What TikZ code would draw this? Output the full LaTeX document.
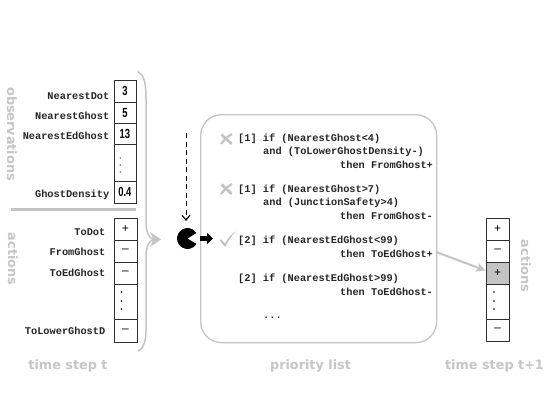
\documentclass[tikz,border=0pt]{standalone}
\usepackage{fontspec}
\setmainfont{DejaVu Sans}
\newfontfamily\codefont{Liberation Mono}[Scale=1]
\newfontfamily\valfont{Liberation Sans}
\usetikzlibrary{arrows.meta,calc}
\definecolor{lightgr}{HTML}{C8C8C8}
\definecolor{headgr}{HTML}{C6C6C6}
\definecolor{boxgr}{HTML}{C4C4C4}
\definecolor{cellline}{HTML}{303030}
\newcommand{\narrowval}[1]{\scalebox{0.82}[1.15]{#1}}
\tikzset{
  cell/.style={draw=cellline,line width=0.8pt,inner sep=0pt,anchor=north west,align=center},
  valtxt/.style={font=\valfont\fontsize{11.5}{11.5}\selectfont\bfseries},
  signtxt/.style={font=\valfont\fontsize{12}{12}\selectfont},
  code/.style={font=\codefont\fontsize{10.3}{10.3}\selectfont\bfseries,inner sep=0pt,text=black!85,yshift=-0.6pt},
  lbl/.style={code,anchor=east},
  rule/.style={code,anchor=west},
  grayhead/.style={font=\fontsize{12.8}{12.8}\selectfont\bfseries,text=headgr,inner sep=0pt},
}
\newcommand{\cellat}[7]{%
 \node[cell,minimum width=#4pt,minimum height=#5pt,#7] (#1) at (#2,#3) {#6};}
\begin{document}
\begin{tikzpicture}[x=1pt,y=-1pt]
\useasboundingbox[fill=white] (0,0) rectangle (545,409);
% headings
\node[grayhead,rotate=-90] (hobs) at (12,134) {observations};
\node[grayhead,rotate=-90] (hact) at (13,259) {actions};
\node[grayhead,rotate=-90] (hact2) at (526,266) {actions};
\node[grayhead] (ht) at (68,366) {time step t};
\node[grayhead] (hp) at (310.5,366) {priority list};
\node[grayhead] (ht1) at (494.5,366) {time step t+1};
% divider
\coordinate (d1) at (11,209.5); \coordinate (d2) at (136,209.5);
\draw[draw=boxgr,line width=3pt] (d1) -- (d2);
% observations
\cellat{o1}{113.5}{80.5}{22}{21}{\narrowval{3}}{valtxt}
\cellat{o2}{113.5}{101.5}{22}{21.5}{\narrowval{5}}{valtxt}
\cellat{o3}{113.5}{123}{22}{21}{\narrowval{13}}{valtxt}
\cellat{o4}{113.5}{144}{22}{37}{}{}
\cellat{o5}{113.5}{181}{22}{22}{\narrowval{0.4}}{valtxt}
\foreach \yy in {158,165,172} \fill[black] (120.2,\yy) circle (0.6);
\node[lbl] (lo1) at (109.5,95.5) {NearestDot};
\node[lbl] (lo2) at (109.5,115) {NearestGhost};
\node[lbl] (lo3) at (109.5,135) {NearestEdGhost};
\node[lbl] (lo5) at (109.5,194) {GhostDensity};
% actions
\cellat{a1}{113.5}{217.5}{23}{22}{+}{signtxt}
\cellat{a2}{113.5}{239.5}{23}{22}{–}{signtxt}
\cellat{a3}{113.5}{261.5}{23}{22}{–}{signtxt}
\cellat{a4}{113.5}{283.5}{23}{35}{}{}
\cellat{a5}{113.5}{318.5}{23}{23}{–}{signtxt}
\foreach \yy in {292,301,309} \fill[black] (121.5,\yy) circle (0.8);
\node[lbl] (la1) at (105.5,232) {ToDot};
\node[lbl] (la2) at (105.5,251.5) {FromGhost};
\node[lbl] (la3) at (105.5,272) {ToEdGhost};
\node[lbl] (la5) at (105.5,330.5) {ToLowerGhostD};
% brace
\coordinate (bt) at (138,71.5); \coordinate (bb) at (138,351);
\coordinate (btip) at (155,239.5);
\draw[draw=boxgr,line width=1.5pt] (bt) .. controls (144,75) and (146,83) .. (146,98)
  -- (146,222) .. controls (146,232) and (149,239.5) .. (btip)
  .. controls (149,239.5) and (146,247) .. (146,257)
  -- (146,330) .. controls (146,342) and (143,349) .. (bb);
\fill[boxgr] (161,239.5) -- (150,232) -- (153.5,239.5) -- (150,247) -- cycle;
% priority list
\node[draw=boxgr,line width=1.3pt,rounded corners=21pt,minimum width=236pt,minimum height=228pt,inner sep=0pt,anchor=north west] (pl) at (200,114) {};
% dashed arrow
\coordinate (dtop) at (186,133);
\coordinate (pactop) at (186,221);
\draw[dash pattern=on 5pt off 3.5pt,line width=1pt,-{Straight Barb[length=5pt,width=8pt,line width=1.1pt]}] (dtop) -- (pactop);
% pacman
\fill[black] (187.5,238.5) -- ++(32:10.5) arc[start angle=-32,end angle=-328,x radius=10.5,y radius=-10.5] -- cycle;
% black arrow
\coordinate (ba1) at (200,238.5); \coordinate (ba2) at (213,238.5);
\draw[line width=4.5pt,-{Triangle[length=6pt,width=11pt]},black] (ba1) -- (ba2);
% crosses
\foreach \yy in {139,189}{
 \draw[draw=boxgr,line width=2.8pt] (221.5,\yy-4.5) .. controls (226,\yy) and (229,\yy+2) .. (231.5,\yy+5);
 \draw[draw=boxgr,line width=2.2pt] (221,\yy+5) .. controls (225,\yy) and (228,\yy-3) .. (232,\yy-5);
}
% check
\fill[boxgr] (219.5,240) -- (221.5,239.5) -- (225,243.5) .. controls (228,238) and (231,234) .. (236,231.5)
 .. controls (232,235) and (228,241) .. (225.5,246.5) -- (224.5,246.5) -- cycle;
% rules
\node[rule] (r1a) at (238,138) {[1] if (NearestGhost<4)};
\node[rule] (r1b) at (263,151) {and (ToLowerGhostDensity-)};
\node[rule] (r1c) at (340,164) {then FromGhost+};
\node[rule] (r2a) at (238,189.5) {[1] if (NearestGhost>7)};
\node[rule] (r2b) at (263,202) {and (JunctionSafety>4)};
\node[rule] (r2c) at (340,215) {then FromGhost-};
\node[rule] (r3a) at (238,240) {[2] if (NearestEdGhost<99)};
\node[rule] (r3c) at (340,253) {then ToEdGhost+};
\node[rule] (r4a) at (238,278) {[2] if (NearestEdGhost>99)};
\node[rule] (r4c) at (340,291) {then ToEdGhost-};
\node[rule] (r5) at (263,317) {...};
% right table
\cellat{b1}{485.5}{217.5}{23.5}{22}{+}{signtxt}
\cellat{b2}{485.5}{239.5}{23.5}{22}{–}{signtxt}
\cellat{b3}{485.5}{261.5}{23.5}{22}{+}{signtxt,fill=boxgr}
\cellat{b4}{485.5}{283.5}{23.5}{35}{}{}
\cellat{b5}{485.5}{318.5}{23.5}{22.5}{–}{signtxt}
\foreach \yy in {292,301,309} \fill[black] (494,\yy) circle (0.9);
% arrow
\coordinate (ra) at (436,252);
\draw[draw=boxgr,line width=2pt,-{Stealth[length=9pt,width=9pt,inset=2pt]}] (ra) -- (b3.west|-0,270.5);
\end{tikzpicture}
\end{document}
